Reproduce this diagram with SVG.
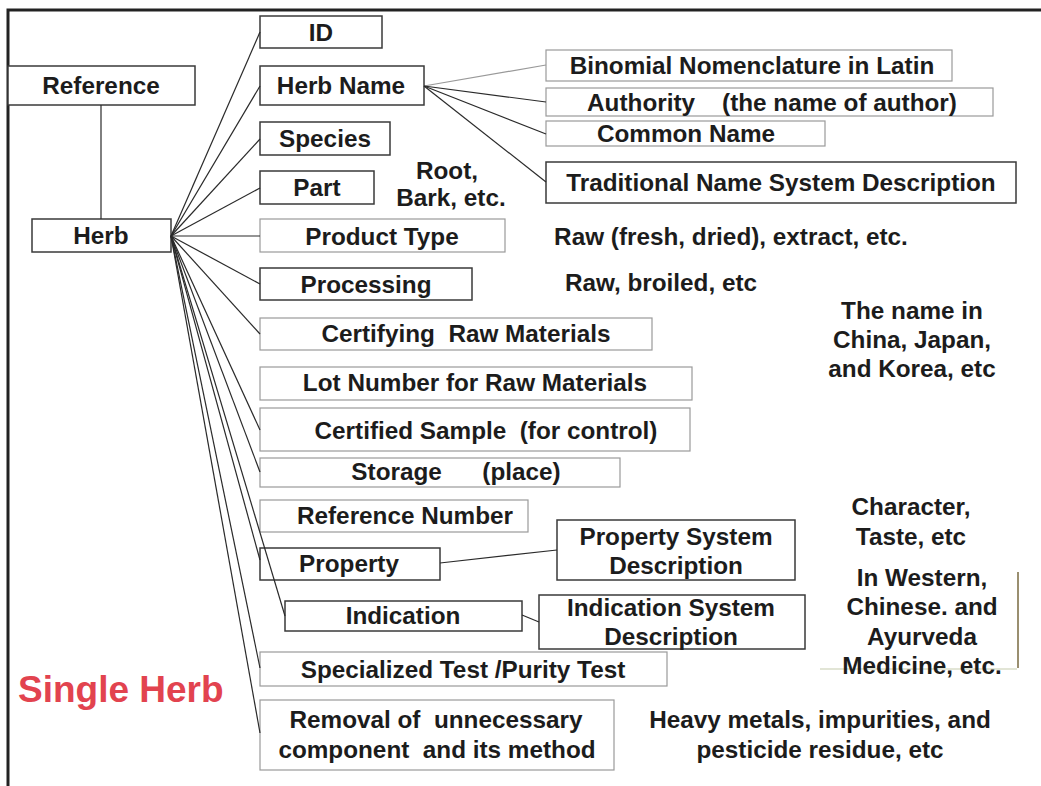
<svg xmlns="http://www.w3.org/2000/svg" width="1041" height="786" viewBox="0 0 1041 786">
<style>
text{font-family:"Liberation Sans",Arial,sans-serif;font-weight:bold;font-size:24.3px;fill:#1c1c1c;text-anchor:middle;white-space:pre}
.dk{fill:#fff;stroke:#3a3a3a;stroke-width:1.5}
.lt{fill:#fff;stroke:#9a9a9a;stroke-width:1.2}
.cn line{stroke:#2a2a2a;stroke-width:1.2}
.title{font-size:37px;fill:#e2434f;text-anchor:start}
</style>
<rect width="1041" height="786" fill="#fff"/>
<path d="M8,786 V10 H1041" fill="none" stroke="#222" stroke-width="3"/>
<line x1="1018" y1="572" x2="1018" y2="668" stroke="#9a8f70" stroke-width="2"/>
<line x1="820" y1="669" x2="1017" y2="669" stroke="#d8dcc8" stroke-width="1.5"/>

<g id="reference"><rect class="dk" x="8" y="66" width="187" height="39"/><text x="101" y="94">Reference</text></g>
<g id="herb"><rect class="dk" x="32" y="219" width="139" height="33"/><text x="101" y="244">Herb</text></g>
<g id="id"><rect class="dk" x="260" y="16" width="122" height="32"/><text x="321" y="41">ID</text></g>
<g id="herb-name"><rect class="dk" x="260" y="66" width="164" height="39"/><text x="341" y="94">Herb Name</text></g>
<g id="species"><rect class="dk" x="260" y="122" width="130" height="33"/><text x="325" y="147">Species</text></g>
<g id="part"><rect class="dk" x="260" y="171" width="114" height="33"/><text x="317" y="196">Part</text></g>
<g id="part-note"><text x="447" y="179">Root,</text><text x="451" y="206">Bark, etc.</text></g>
<g id="product-type"><rect class="lt" x="260" y="219" width="245" height="33"/><text x="382" y="245">Product Type</text></g>
<g id="product-note"><text x="731" y="245">Raw (fresh, dried), extract, etc.</text></g>
<g id="processing"><rect class="dk" x="260" y="268" width="212" height="32"/><text x="366" y="293">Processing</text></g>
<g id="processing-note"><text x="661" y="291">Raw, broiled, etc</text></g>
<g id="certifying"><rect class="lt" x="260" y="318" width="392" height="32"/><text x="466" y="342">Certifying  Raw Materials</text></g>
<g id="lot-number"><rect class="lt" x="260" y="367" width="432" height="33"/><text x="475" y="391">Lot Number for Raw Materials</text></g>
<g id="certified-sample"><rect class="lt" x="260" y="408" width="430" height="43"/><text x="486" y="439">Certified Sample  (for control)</text></g>
<g id="storage"><rect class="lt" x="260" y="458" width="360" height="29"/><text x="456" y="480">Storage      (place)</text></g>
<g id="reference-number"><rect class="lt" x="260" y="500" width="268" height="32"/><text x="405" y="524">Reference Number</text></g>
<g id="property"><rect class="dk" x="260" y="548" width="180" height="32"/><text x="349" y="572">Property</text></g>
<g id="indication"><rect class="dk" x="285" y="601" width="237" height="30"/><text x="403" y="624">Indication</text></g>
<g id="specialized-test"><rect class="lt" x="260" y="652" width="407" height="34"/><text x="463" y="678">Specialized Test /Purity Test</text></g>
<g id="removal"><rect class="lt" x="260" y="700" width="354" height="70"/><text x="436" y="728">Removal of  unnecessary</text><text x="437" y="758">component  and its method</text></g>
<g id="removal-note"><text x="820" y="728">Heavy metals, impurities, and</text><text x="820" y="758">pesticide residue, etc</text></g>
<g id="binomial"><rect class="lt" x="546" y="50" width="406" height="31"/><text x="752" y="74">Binomial Nomenclature in Latin</text></g>
<g id="authority"><rect class="lt" x="546" y="88" width="447" height="28"/><text x="772" y="111">Authority    (the name of author)</text></g>
<g id="common-name"><rect class="lt" x="546" y="121" width="279" height="25"/><text x="686" y="142">Common Name</text></g>
<g id="traditional"><rect class="dk" x="546" y="162" width="470" height="41"/><text x="781" y="191">Traditional Name System Description</text></g>
<g id="names-note"><text x="912" y="319">The name in</text><text x="912" y="348">China, Japan,</text><text x="912" y="377">and Korea, etc</text></g>
<g id="property-system"><rect class="dk" x="557" y="520" width="238" height="60"/><text x="676" y="545">Property System</text><text x="676" y="574">Description</text></g>
<g id="property-note"><text x="911" y="515">Character,</text><text x="911" y="545">Taste, etc</text></g>
<g id="indication-system"><rect class="dk" x="539" y="595" width="266" height="54"/><text x="671" y="616">Indication System</text><text x="671" y="645">Description</text></g>
<g id="indication-note"><text x="922" y="586">In Western,</text><text x="922" y="615">Chinese. and</text><text x="922" y="645">Ayurveda</text><text x="922" y="674">Medicine, etc.</text></g>
<g id="single-herb"><text class="title" x="18" y="702">Single Herb</text></g>

<g id="connectors" class="cn">
<line x1="101" y1="105" x2="101" y2="219"/>
<line x1="171" y1="236" x2="260" y2="32"/>
<line x1="171" y1="236" x2="260" y2="86"/>
<line x1="171" y1="236" x2="260" y2="139"/>
<line x1="171" y1="236" x2="260" y2="188"/>
<line x1="171" y1="236" x2="260" y2="236"/>
<line x1="171" y1="236" x2="260" y2="284"/>
<line x1="171" y1="236" x2="260" y2="334"/>
<line x1="171" y1="236" x2="260" y2="430"/>
<line x1="171" y1="236" x2="260" y2="472"/>
<line x1="171" y1="236" x2="260" y2="560"/>
<line x1="171" y1="236" x2="285" y2="616"/>
<line x1="171" y1="236" x2="260" y2="668"/>
<line x1="171" y1="236" x2="260" y2="733"/>
<line x1="424" y1="86" x2="546" y2="65" style="stroke:#999"/>
<line x1="424" y1="86" x2="546" y2="102"/>
<line x1="424" y1="86" x2="546" y2="134"/>
<line x1="424" y1="86" x2="546" y2="182"/>
<line x1="440" y1="563" x2="557" y2="550"/>
<line x1="522" y1="615" x2="539" y2="622"/>
</g>
</svg>
